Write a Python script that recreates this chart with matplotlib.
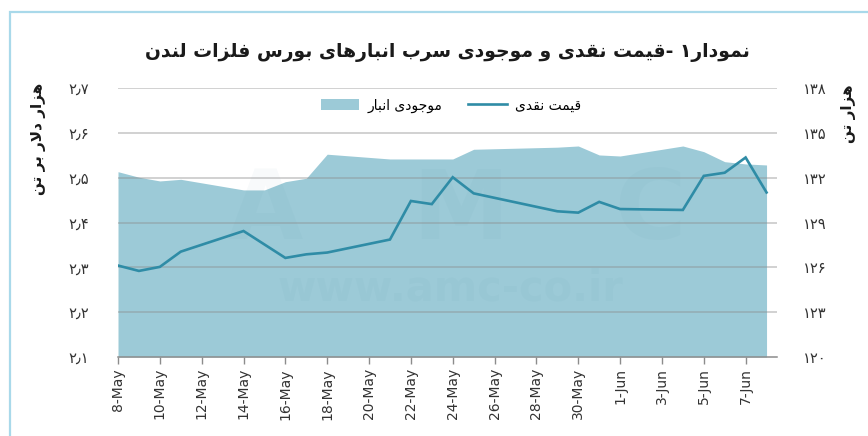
import matplotlib
matplotlib.use("Agg")
import matplotlib.pyplot as plt
import matplotlib.dates as mdates
from matplotlib.patches import Patch, Rectangle
from matplotlib.lines import Line2D
import pandas as pd

# ---------------- data ----------------
dates = ["2018-05-08", "2018-05-09", "2018-05-10", "2018-05-11", "2018-05-14",
         "2018-05-15", "2018-05-16", "2018-05-17", "2018-05-18", "2018-05-21",
         "2018-05-22", "2018-05-23", "2018-05-24", "2018-05-25", "2018-05-29",
         "2018-05-30", "2018-05-31", "2018-06-01", "2018-06-04", "2018-06-05",
         "2018-06-06", "2018-06-07", "2018-06-08"]
cash_price = [2.304, 2.292, 2.301, 2.335, 2.381, 2.351, 2.321, 2.329, 2.333, 2.362,
              2.448, 2.441, 2.501, 2.465, 2.425, 2.422, 2.446, 2.430, 2.428, 2.504,
              2.511, 2.545, 2.467]
stocks = [132.40, 132.03, 131.78, 131.89, 131.18, 131.18, 131.73, 131.96, 133.57, 133.25,
          133.25, 133.25, 133.25, 133.90, 134.04, 134.12, 133.52, 133.45, 134.12, 133.74,
          133.07, 132.92, 132.85]
left_ticks = [2.1, 2.2, 2.3, 2.4, 2.5, 2.6, 2.7]
left_tick_labels = ["۲٫۱", "۲٫۲", "۲٫۳", "۲٫۴", "۲٫۵", "۲٫۶", "۲٫۷"]
right_ticks = [120, 123, 126, 129, 132, 135, 138]
right_tick_labels = ["۱۲۰", "۱۲۳", "۱۲۶", "۱۲۹", "۱۳۲", "۱۳۵", "۱۳۸"]
title_text = "نمودار۱ -قیمت نقدی و موجودی سرب انبارهای بورس فلزات لندن"
legend_stock = "موجودی انبار"
legend_price = "قیمت نقدی"
ylabel_left = "هزار دلار بر تن"
ylabel_right = "هزار تن"

# ---------------- minimal Persian shaping ----------------
FORMS = {
    'ا': ('\uFE8D', '\uFE8E', None, None),
    'ب': ('\uFE8F', '\uFE90', '\uFE91', '\uFE92'),
    'پ': ('\uFB56', '\uFB57', '\uFB58', '\uFB59'),
    'ت': ('\uFE95', '\uFE96', '\uFE97', '\uFE98'),
    'ث': ('\uFE99', '\uFE9A', '\uFE9B', '\uFE9C'),
    'ج': ('\uFE9D', '\uFE9E', '\uFE9F', '\uFEA0'),
    'چ': ('\uFB7A', '\uFB7B', '\uFB7C', '\uFB7D'),
    'ح': ('\uFEA1', '\uFEA2', '\uFEA3', '\uFEA4'),
    'خ': ('\uFEA5', '\uFEA6', '\uFEA7', '\uFEA8'),
    'د': ('\uFEA9', '\uFEAA', None, None),
    'ذ': ('\uFEAB', '\uFEAC', None, None),
    'ر': ('\uFEAD', '\uFEAE', None, None),
    'ز': ('\uFEAF', '\uFEB0', None, None),
    'ژ': ('\uFB8A', '\uFB8B', None, None),
    'س': ('\uFEB1', '\uFEB2', '\uFEB3', '\uFEB4'),
    'ش': ('\uFEB5', '\uFEB6', '\uFEB7', '\uFEB8'),
    'ص': ('\uFEB9', '\uFEBA', '\uFEBB', '\uFEBC'),
    'ض': ('\uFEBD', '\uFEBE', '\uFEBF', '\uFEC0'),
    'ط': ('\uFEC1', '\uFEC2', '\uFEC3', '\uFEC4'),
    'ظ': ('\uFEC5', '\uFEC6', '\uFEC7', '\uFEC8'),
    'ع': ('\uFEC9', '\uFECA', '\uFECB', '\uFECC'),
    'غ': ('\uFECD', '\uFECE', '\uFECF', '\uFED0'),
    'ف': ('\uFED1', '\uFED2', '\uFED3', '\uFED4'),
    'ق': ('\uFED5', '\uFED6', '\uFED7', '\uFED8'),
    'ک': ('\uFB8E', '\uFB8F', '\uFB90', '\uFB91'),
    'گ': ('\uFB92', '\uFB93', '\uFB94', '\uFB95'),
    'ل': ('\uFEDD', '\uFEDE', '\uFEDF', '\uFEE0'),
    'م': ('\uFEE1', '\uFEE2', '\uFEE3', '\uFEE4'),
    'ن': ('\uFEE5', '\uFEE6', '\uFEE7', '\uFEE8'),
    'و': ('\uFEED', '\uFEEE', None, None),
    'ه': ('\uFEE9', '\uFEEA', '\uFEEB', '\uFEEC'),
    'ی': ('\uFBFC', '\uFBFD', '\uFBFE', '\uFBFF'),
}


def _dual(c):
    return c in FORMS and FORMS[c][2] is not None


def fa(s):
    ch = list(s)
    n = len(ch)
    res = []
    i = 0
    while i < n:
        c = ch[i]
        if c not in FORMS:
            res.append(c)
            i += 1
            continue
        prev = ch[i - 1] if i > 0 else None
        jp = prev is not None and _dual(prev)
        if c == 'ل' and i + 1 < n and ch[i + 1] == 'ا':
            res.append('\uFEFC' if jp else '\uFEFB')
            i += 2
            continue
        nxt = ch[i + 1] if i + 1 < n else None
        jn = _dual(c) and nxt is not None and nxt in FORMS
        iso, fin, ini, med = FORMS[c]
        if jp and jn:
            res.append(med)
        elif jp:
            res.append(fin)
        elif jn:
            res.append(ini)
        else:
            res.append(iso)
        i += 1
    return ''.join(reversed(res))


# ---------------- figure ----------------
plt.rcParams['font.family'] = ['DejaVu Sans']
fig = plt.figure(figsize=(8.68, 4.36), dpi=100)
fig.patch.set_facecolor('white')

# light blue frame (right and bottom edges fall outside the picture)
fig.patches.append(Rectangle((10 / 868, -0.05), 1.05, 1.05 - 12 / 436,
                             transform=fig.transFigure, fill=False,
                             edgecolor='#a9d9ea', linewidth=1.6, zorder=0))

ax = fig.add_axes([118 / 868, 1 - 357 / 436, (777 - 118) / 868, (357 - 88) / 436])
ax2 = ax.twinx()

x = pd.to_datetime(dates)
area_color = '#9ccad7'
line_color = '#2f8ca6'

ax2.fill_between(x, 120, stocks, color=area_color, linewidth=0, zorder=1)
ax2.set_ylim(120, 138)
ax2.set_yticks(right_ticks)
ax2.set_yticklabels(right_tick_labels)

ax.plot(x, cash_price, color=line_color, linewidth=1.9, zorder=5, solid_joinstyle='miter')
ax.set_ylim(2.1, 2.7)
ax.set_yticks(left_ticks)
ax.set_yticklabels(left_tick_labels)

ax.set_zorder(ax2.get_zorder() + 1)
ax.patch.set_visible(False)

# gridlines above area
for v in left_ticks[1:]:
    ax.axhline(v, color='#8c8c8c', linewidth=1.1, alpha=0.5, zorder=3)

x0 = pd.Timestamp("2018-05-08")
ax.set_xlim(x0, x0 + pd.Timedelta(days=31.5))
ticks = pd.date_range("2018-05-08", "2018-06-07", freq="2D")
ax.set_xticks(ticks)
ax.xaxis.set_major_formatter(mdates.DateFormatter('%-d-%b'))
for lab in ax.get_xticklabels():
    lab.set_rotation(90)

for a in (ax, ax2):
    for s in ('top', 'left', 'right'):
        a.spines[s].set_visible(False)
ax2.spines['bottom'].set_visible(False)
ax.spines['bottom'].set_color('#8c8c8c')
ax.spines['bottom'].set_linewidth(1.1)

ax.tick_params(axis='x', direction='out', length=5, width=1, color='#8c8c8c',
               labelsize=10, labelcolor='#333333', pad=3)
ax.tick_params(axis='y', length=0, labelsize=10.5, labelcolor='#333333', pad=21)
ax2.tick_params(axis='y', length=0, labelsize=10.5, labelcolor='#333333', pad=19)

# faint watermark
wm_color = '#3d7f93'
for letter, xp in (("A", 265), ("M", 460), ("C", 650)):
    fig.text(xp / 868, 1 - 212 / 436, letter, ha='center', va='center', fontsize=70,
             fontweight='bold', color=wm_color, alpha=0.035, zorder=0.5)
fig.text(450 / 868, 1 - 288 / 436, "www.amc-co.ir", ha='center', va='center', fontsize=30,
         fontweight='bold', color=wm_color, alpha=0.035)

# legend
handles = [Patch(facecolor=area_color, edgecolor='none'),
           Line2D([0], [0], color=line_color, linewidth=1.9)]
ax.legend(handles, [fa(legend_stock), fa(legend_price)], ncol=2, frameon=False,
          loc='center', bbox_to_anchor=(0.505, 0.935), fontsize=10,
          handlelength=2.8, handleheight=0.9, columnspacing=1.8, handletextpad=0.6)

# title and axis labels
fig.text(447 / 868, 1 - 52 / 436, fa(title_text), ha='center', va='center',
         fontsize=13.5, fontweight='bold', color='#1a1a1a')
fig.text(38 / 868, 1 - 139 / 436, fa(ylabel_left), ha='center', va='center',
         rotation=90, fontsize=11, fontweight='bold', color='#1a1a1a')
fig.text(849 / 868, 1 - 114 / 436, fa(ylabel_right), ha='center', va='center',
         rotation=90, fontsize=11, fontweight='bold', color='#1a1a1a')

fig.savefig("out.png", dpi=100, facecolor='white')
